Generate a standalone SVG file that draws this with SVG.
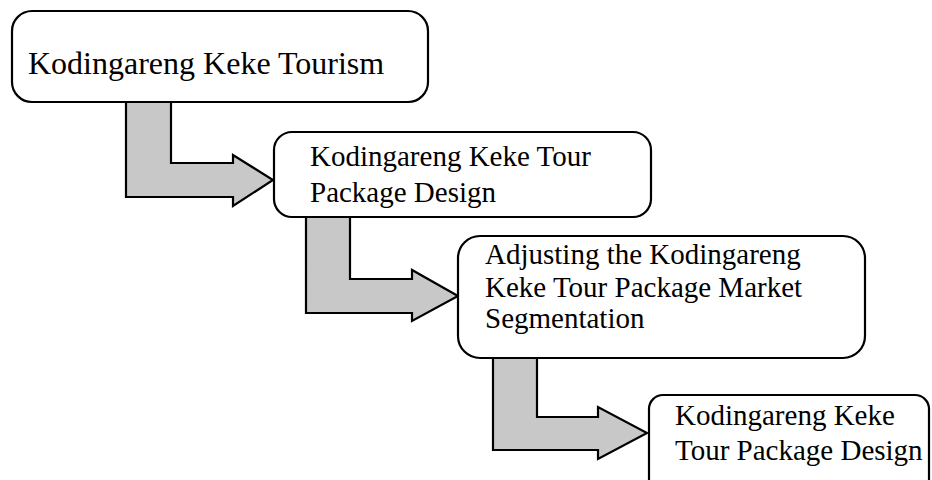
<svg xmlns="http://www.w3.org/2000/svg" width="932" height="480" viewBox="0 0 932 480">
  <style>
    .box { fill: #ffffff; stroke: #000000; stroke-width: 2.2; }
    .arrow { fill: #c8c8c8; stroke: #000000; stroke-width: 2.2; stroke-linejoin: miter; }
    .label { font-family: "Liberation Serif", "Times New Roman", serif; fill: #000000; font-size: 29px; }
    .big { font-size: 32px; }
  </style>
  <rect width="932" height="480" fill="#ffffff"/>

  <!-- bent block arrows leading down the steps -->
  <g id="connectors">
    <polygon class="arrow" points="126,102 171,102 171,163 233,163 233,155 273,180 233,206 233,197 126,197"/>
    <polygon class="arrow" points="306,217 350,217 350,279 412,279 412,270 458,296 412,321 412,313 306,313"/>
    <polygon class="arrow" points="493,358 537,358 537,417 598,417 598,407 647,433 598,459 598,450 493,450"/>
  </g>

  <g id="node-tourism">
    <rect class="box" x="12" y="11" width="416" height="91" rx="20" ry="20"/>
    <text class="label big" x="28" y="74">Kodingareng Keke Tourism</text>
  </g>

  <g id="node-design">
    <rect class="box" x="274" y="132" width="377" height="85" rx="18" ry="18"/>
    <text class="label" x="310" y="166">Kodingareng Keke Tour</text>
    <text class="label" x="310" y="202">Package Design</text>
  </g>

  <g id="node-segmentation">
    <rect class="box" x="458" y="236" width="407" height="122" rx="22" ry="22"/>
    <text class="label" x="485" y="264">Adjusting the Kodingareng</text>
    <text class="label" x="485" y="297">Keke Tour Package Market</text>
    <text class="label" x="485" y="328">Segmentation</text>
  </g>

  <g id="node-design-final">
    <rect class="box" x="649" y="395" width="280" height="110" rx="14" ry="14"/>
    <text class="label" x="675" y="425">Kodingareng Keke</text>
    <text class="label" x="675" y="460">Tour Package Design</text>
  </g>
</svg>
